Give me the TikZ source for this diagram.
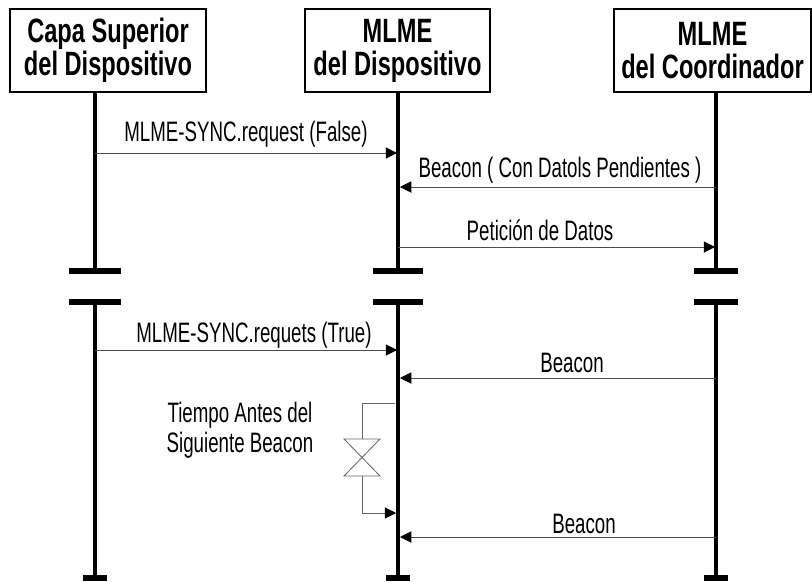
\documentclass[tikz,border=0pt]{standalone}
\usepackage{fontspec}
\setmainfont{Liberation Sans}[FakeStretch=0.665]
\newfontfamily\headfont{Liberation Sans}[FakeStretch=0.7]
\usetikzlibrary{arrows.meta,calc}

\begin{document}
\begin{tikzpicture}[x=0.025cm, y=-0.025cm, line join=miter,
  every node/.style={font=\fontsize{20}{21}\selectfont, inner sep=0pt},
  headbox/.style={draw, line width=1.4pt, align=center, inner sep=0pt,
    minimum height=2.075cm, font=\headfont\fontsize{24}{23.5}\selectfont\bfseries},
  life/.style={line width=2.4pt},
  endbar/.style={line width=4.2pt},
  msg/.style={line width=0.7pt, draw=black!70, -{Triangle[length=8pt,width=8pt,black]}},
  wait/.style={line width=0.6pt, draw=black!60}]
  \useasboundingbox (0,0) rectangle (812,581);

  % cabeceras
  \node[headbox, minimum width=4.9cm] (cs) at (108,50.5) {Capa Superior\\del Dispositivo};
  \node[headbox, minimum width=4.625cm] (md) at (397.5,50.5) {MLME\\del Dispositivo};
  \node[headbox, minimum width=4.925cm] (mc) at (712.5,50.5) {MLME\\del Coordinador};

  % lineas de vida
  \foreach \i/\lx/\bw in {1/95/26,2/398/25,3/716/22} {
    \coordinate (t\i) at (\lx,92);
    \coordinate (u\i) at (\lx,271);
    \coordinate (v\i) at (\lx,302);
    \coordinate (z\i) at (\lx,581);
    \draw[life] (t\i) -- (u\i);
    \draw[life] (v\i) -- (z\i);
    \draw[endbar] ($(u\i)+(-\bw,0)$) -- ($(u\i)+(\bw,0)$);
    \draw[endbar] ($(v\i)+(-\bw,0)$) -- ($(v\i)+(\bw,0)$);
    \draw[endbar] ($(z\i)+(-12,-3)$) -- ($(z\i)+(12,-3)$);
  }

  % mensajes
  \coordinate (a1) at (95,153);  \coordinate (b1) at (397,153);
  \coordinate (a2) at (716,187); \coordinate (b2) at (400,187);
  \coordinate (a3) at (398,247); \coordinate (b3) at (715,247);
  \coordinate (a4) at (95,350);  \coordinate (b4) at (397,350);
  \coordinate (a5) at (716,378); \coordinate (b5) at (400,378);
  \coordinate (a6) at (716,537); \coordinate (b6) at (400,537);

  \draw[msg] (a1) -- (b1);
  \draw[msg] (a2) -- (b2);
  \draw[msg] (a3) -- (b3);
  \draw[msg] (a4) -- (b4);
  \draw[msg] (a5) -- (b5);
  \draw[msg] (a6) -- (b6);

  \node[anchor=base] (l1) at (246,141) {MLME-SYNC.request (False)};
  \node[anchor=base] (l2) at (560,177) {Beacon ( Con Datols Pendientes )};
  \node[anchor=base] (l3) at (540,240) {Petición de Datos};
  \node[anchor=base] (l4) at (254,342) {MLME-SYNC.requets (True)};
  \node[anchor=base] (l5) at (572,372) {Beacon};
  \node[anchor=base] (l6) at (584,533) {Beacon};

  % espera hasta el siguiente beacon
  \coordinate (w0) at (395,403);
  \coordinate (w1) at (362,439);
  \coordinate (w2) at (362,476);
  \coordinate (w3) at (396,513);
  \draw[wait] (w0) -- (w0 -| w1) -- (w1);
  \draw[wait] ($(w1)+(-18,0)$) -- ($(w1)+(18,0)$) -- ($(w2)+(-18,0)$)
    -- ($(w2)+(18,0)$) -- cycle;
  \draw[wait, -{Triangle[length=8pt,width=8pt,black]}] (w2) -- (w2 |- w3) -- (w3);
  \node[align=center, anchor=base] (tw) at (240,452) {Tiempo Antes del\\Siguiente Beacon};
\end{tikzpicture}
\end{document}
